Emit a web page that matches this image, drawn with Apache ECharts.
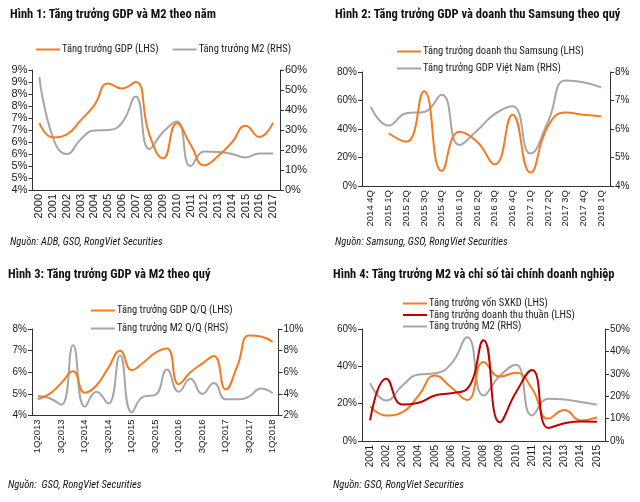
<!DOCTYPE html>
<html><head><meta charset="utf-8">
<script src="https://cdn.jsdelivr.net/npm/echarts@6/dist/echarts.min.js"></script>
<style>html,body{margin:0;padding:0;background:#fff}#c{width:640px;height:502px}</style>
</head><body><div id="c"></div>
<script>
// ---------- Data ----------
// Hình 1
const years1 = ['2000','2001','2002','2003','2004','2005','2006','2007','2008','2009','2010','2011','2012','2013','2014','2015','2016','2017'];
const gdpYear = [6.79, 6.19, 6.32, 6.90, 7.54, 8.44, 8.23, 8.50, 6.31, 5.32, 6.78, 5.89, 5.03, 5.42, 5.98, 6.68, 6.21, 6.81];
const m2Year = [56.5, 26, 18, 25.3, 29.7, 30, 33.5, 46.7, 20.5, 29, 34.2, 12, 19.2, 19, 18, 16.3, 18.3, 18.2];
const leftTicks1 = ['4%','5%','5%','6%','6%','7%','7%','8%','8%','9%','9%'];
// Hình 2
const quarters2 = ['2014 4Q','2015 1Q','2015 2Q','2015 3Q','2015 4Q','2016 1Q','2016 2Q','2016 3Q','2016 4Q','2017 1Q','2017 2Q','2017 3Q','2017 4Q','2018 1Q'];
const samsungRev = [null, 37, 31, 66.5, 10.5, 38, 31, 15.2, 50, 9.5, 42, 51.5, 50, 49];
const gdpQ2 = [6.78, 6.12, 6.55, 6.6, 7.2, 5.44, 5.95, 6.53, 6.8, 5.14, 6.26, 7.7, 7.64, 7.46];
// Hình 3
const quarters3 = ['1Q2013','2Q2013','3Q2013','4Q2013','1Q2014','2Q2014','3Q2014','4Q2014','1Q2015','2Q2015','3Q2015','4Q2015','1Q2016','2Q2016','3Q2016','4Q2016','1Q2017','2Q2017','3Q2017','4Q2017','1Q2018'];
const gdpQ3 = [4.76, 5.0, 5.5, 6.05, 5.05, 5.4, 6.2, 7.0, 6.1, 6.45, 6.9, 7.1, 5.45, 6.0, 6.4, 6.75, 5.2, 6.3, 7.7, 7.65, 7.4];
const m2Q3 = [3.8, 3.6, 3.0, 8.5, 2.8, 4.2, 3.1, 7.55, 2.3, 3.75, 3.9, 6.25, 4.2, 5.4, 4.0, 5.0, 3.5, 3.5, 3.75, 4.5, 4.05];
// Hình 4
const years4 = ['2001','2002','2003','2004','2005','2006','2007','2008','2009','2010','2011','2012','2013','2014','2015'];
const vonSXKD = [18.5, 13.7, 15.5, 24.4, 35.1, 28.8, 22, 42.3, 34.5, 36.5, 28, 12, 16.6, 11, 12.6];
const dtThuan = [11, 33.3, 19.5, 20.5, 24.4, 25.6, 28, 54, 10, 26, 38, 7, 9.5, 10.5, 10.3];
const m2Year4 = [25.8, 18.1, 24.8, 29.7, 30.2, 34.4, 46.3, 20.3, 29, 34, 11.4, 18.9, 18.5, 17.4, 16.2];

// ---------- Style ----------
const ORANGE = '#F47B20', GRAY = '#A6A6A6', RED = '#C00000';
const NARROW = "'Liberation Sans Narrow', 'Roboto Condensed', 'Liberation Sans', sans-serif";
const SANS = "'Liberation Sans', Arial, sans-serif";
const TXT = '#1a1a1a';

function xAx(grid, data, fs, interval) {
  return {type:'category', gridIndex:grid, data:data, boundaryGap:true,
    axisLine:{show:true, lineStyle:{color:'#333', width:1}}, axisTick:{show:false},
    axisLabel:{rotate:90, interval:interval, margin:4, fontSize:fs, fontFamily:SANS, color:TXT},
    splitLine:{show:false}};
}
function yAx(grid, min, max, step, pos, fs, fmt) {
  return {type:'value', gridIndex:grid, min:min, max:max, interval:step, position:pos,
    axisLine:{show:true, lineStyle:{color:'#333', width:1}},
    axisTick:{show:true, length:4, lineStyle:{color:'#333'}},
    axisLabel:{margin:5, fontSize:fs, fontFamily:SANS, color:TXT, formatter:fmt},
    splitLine:{show:false}};
}
function line(name, x, y, data, color) {
  return {type:'line', name:name, xAxisIndex:x, yAxisIndex:y, data:data, smooth:0.5,
    symbol:'none', connectNulls:false, lineStyle:{color:color, width:2}, itemStyle:{color:color}};
}
function ttl(text, left, top, bold, italic, fs) {
  return {text:text, left:left, top:top, padding:0,
    textStyle:{fontFamily:NARROW, fontSize:fs, fontWeight:bold?'bold':'normal', fontStyle:italic?'italic':'normal', color:'#111'}};
}
function leg(names, left, top, orient, gap, fs) {
  return {data:names, left:left, top:top, orient:orient, itemGap:gap, padding:0,
    icon:'rect', itemWidth:24, itemHeight:2, selectedMode:false,
    textStyle:{fontFamily:NARROW, fontSize:fs, color:TXT, padding:[0,0,0,-3]}};
}
const pct = v => v + '%';

const chart = echarts.init(document.getElementById('c'), null, {renderer:'canvas'});
chart.setOption({
  animation:false,
  backgroundColor:'#fff',
  title:[
    ttl('Hình 1: Tăng trưởng GDP và M2 theo năm', 10, 8, true, false, 12.5),
    ttl('Hình 2: Tăng trưởng GDP và doanh thu Samsung theo quý', 335, 8, true, false, 12.5),
    ttl('Hình 3: Tăng trưởng GDP và M2 theo quý', 8, 268, true, false, 12.5),
    ttl('Hình 4: Tăng trưởng M2 và chỉ số tài chính doanh nghiệp', 333, 268, true, false, 12.5),
    ttl('Nguồn: ADB, GSO, RongViet Securities', 10, 237, false, true, 10.5),
    ttl('Nguồn: Samsung, GSO, RongViet Securities', 335, 237, false, true, 10.5),
    ttl('Nguồn:  GSO, RongViet Securities', 8, 480, false, true, 10.5),
    ttl('Nguồn: GSO, RongViet Securities', 333, 480, false, true, 10.5)
  ],
  legend:[
    leg(['Tăng trưởng GDP (LHS)','Tăng trưởng M2 (RHS)'], 36, 44, 'horizontal', 14, 10.5),
    leg(['Tăng trưởng doanh thu Samsung (LHS)','Tăng trưởng GDP Việt Nam (RHS)'], 397, 46, 'vertical', 6, 10.5),
    leg(['Tăng trưởng GDP Q/Q (LHS)','Tăng trưởng M2 Q/Q (RHS)'], 91, 305, 'vertical', 7, 10.5),
    leg(['Tăng trưởng vốn SXKD (LHS)','Tăng trưởng doanh thu thuần (LHS)','Tăng trưởng M2 (RHS)'], 403, 298, 'vertical', 0.5, 10.5)
  ],
  grid:[
    {left:32.5, top:70, width:247.5, height:120},
    {left:362, top:72, width:248, height:114},
    {left:32, top:329, width:246.5, height:86.5},
    {left:362, top:329, width:243, height:112}
  ],
  xAxis:[
    xAx(0, years1, 11, 0),
    xAx(1, quarters2, 9.5, 0),
    xAx(2, quarters3, 9.5, 1),
    xAx(3, years4, 10, 0)
  ],
  yAxis:[
    yAx(0, 4, 9, 0.5, 'left', 11, (v, i) => leftTicks1[i]),
    yAx(0, 0, 60, 10, 'right', 11, pct),
    yAx(1, 0, 80, 20, 'left', 10, pct),
    yAx(1, 4, 8, 1, 'right', 10, pct),
    yAx(2, 4, 8, 1, 'left', 10, pct),
    yAx(2, 2, 10, 2, 'right', 10, pct),
    yAx(3, 0, 60, 20, 'left', 10, pct),
    yAx(3, 0, 50, 10, 'right', 10, pct)
  ],
  series:[
    line('Tăng trưởng M2 (RHS)', 0, 1, m2Year, GRAY),
    line('Tăng trưởng GDP (LHS)', 0, 0, gdpYear, ORANGE),
    line('Tăng trưởng GDP Việt Nam (RHS)', 1, 3, gdpQ2, GRAY),
    line('Tăng trưởng doanh thu Samsung (LHS)', 1, 2, samsungRev, ORANGE),
    line('Tăng trưởng M2 Q/Q (RHS)', 2, 5, m2Q3, GRAY),
    line('Tăng trưởng GDP Q/Q (LHS)', 2, 4, gdpQ3, ORANGE),
    line('Tăng trưởng M2 (RHS)', 3, 7, m2Year4, GRAY),
    line('Tăng trưởng vốn SXKD (LHS)', 3, 6, vonSXKD, ORANGE),
    line('Tăng trưởng doanh thu thuần (LHS)', 3, 6, dtThuan, RED)
  ]
});
</script>
</body></html>
